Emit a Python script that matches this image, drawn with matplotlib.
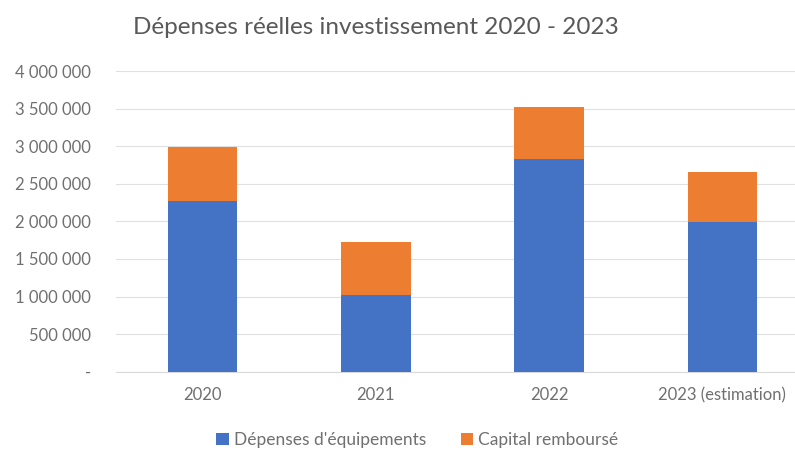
import matplotlib.pyplot as plt
import matplotlib.ticker as mticker

# Données
annees = ['2020', '2021', '2022', '2023 (estimation)']
equipements = [2270000, 1020000, 2828000, 1987000]
capital = [714000, 709000, 696000, 673000]

bleu = '#4472C4'
orange = '#ED7D31'
gris = '#595959'
gris_clair = '#707070'

plt.rcParams['font.family'] = ['Lato', 'DejaVu Sans']

fig = plt.figure(figsize=(7.95, 4.5), dpi=100)
ax = fig.add_axes([116/795, 0.174, 693/795, 0.668])

x = range(len(annees))
ax.bar(x, equipements, width=0.4, color=bleu, label="Dépenses d'équipements", zorder=3)
ax.bar(x, capital, width=0.4, bottom=equipements, color=orange, label='Capital remboursé', zorder=3)

ax.set_xlim(-0.5, 3.5)
ax.set_ylim(0, 4000000)
ax.set_yticks(range(0, 4000001, 500000))


def fmt(v, pos):
    if v == 0:
        return '-'
    return '{:,.0f}'.format(v).replace(',', ' ')


ax.yaxis.set_major_formatter(mticker.FuncFormatter(fmt))
ax.set_xticks(list(x))
ax.set_xticklabels(annees)
ax.tick_params(axis='both', length=0, colors=gris_clair, labelsize=12)
ax.tick_params(axis='y', pad=18)
ax.tick_params(axis='x', pad=11)

ax.grid(axis='y', color='#E0E0E0', linewidth=0.8, zorder=0)
for s in ['top', 'right', 'left']:
    ax.spines[s].set_visible(False)
ax.spines['bottom'].set_color('#D9D9D9')

fig.text(0.473, 0.938, 'Dépenses réelles investissement 2020 - 2023',
         ha='center', va='center', fontsize=17.5, color=gris)

fig.legend(loc='center', bbox_to_anchor=(0.525, 0.022), ncol=2, frameon=False,
           fontsize=12.5, labelcolor=gris_clair, handlelength=0.7, handleheight=0.7,
           columnspacing=2.0, handletextpad=0.3)

fig.savefig('out.png', dpi=100)
